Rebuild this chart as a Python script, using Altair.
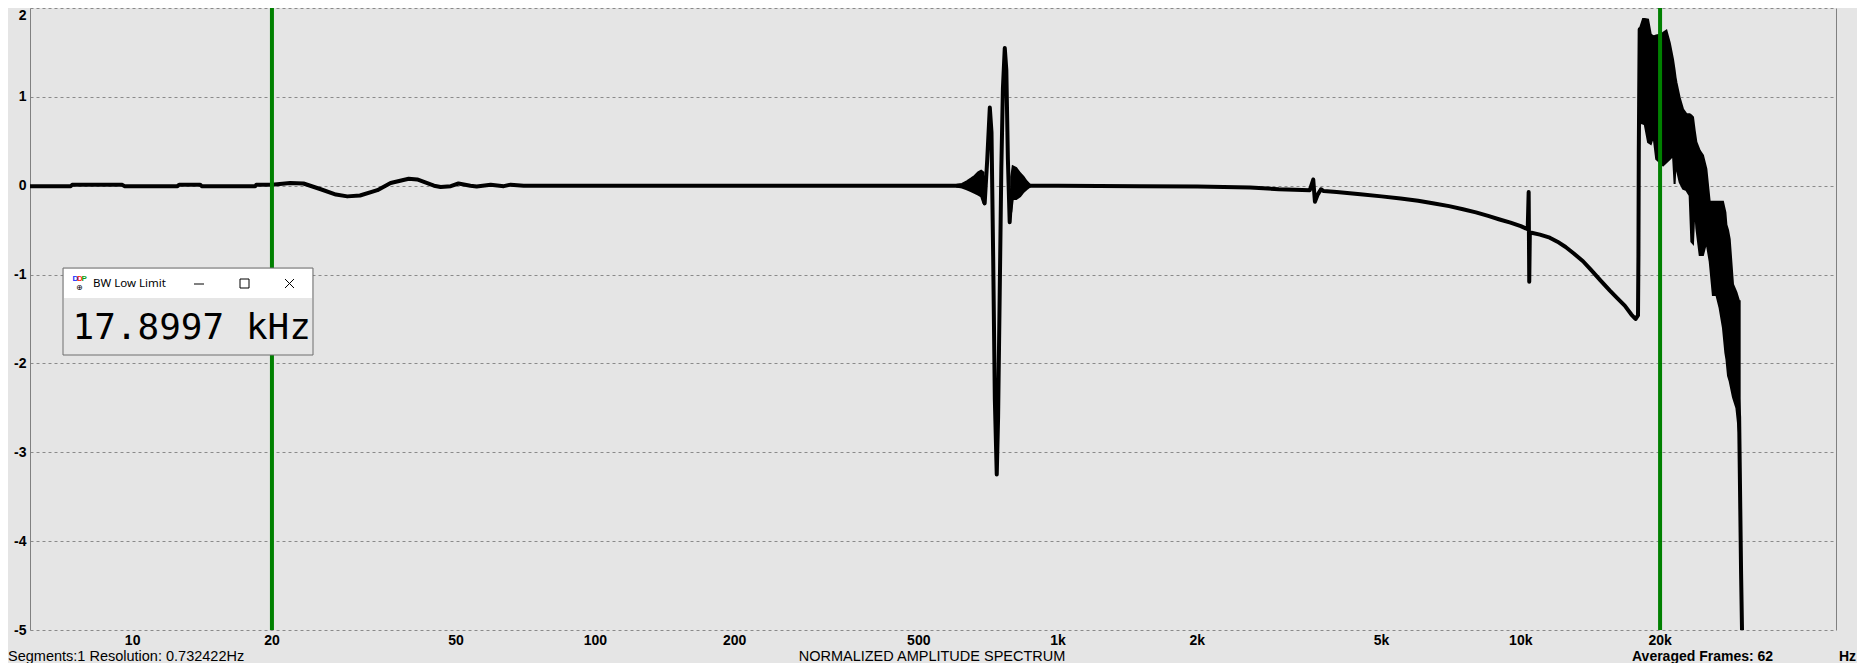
import altair as alt
import pandas as pd

# ---------------- data ----------------
# main trace: frequency (Hz) and normalized amplitude
freq = [6, 7.35, 7.4, 9.5, 9.6, 12.5, 12.6, 14.0, 14.1, 18.4, 18.5, 20, 21.9, 23.4,
        25.5, 27.5, 29.1, 31, 33.8, 36.1, 39.5, 41.2, 44.8, 46.3, 48.7, 50.6, 53.7,
        55.4, 59.4, 63.4, 65.6, 70, 100, 200, 400, 600, 680, 688, 694, 703, 712,
        718, 724, 730, 737, 742, 748, 754, 760, 767, 773, 779, 786, 790, 800, 870,
        1000, 1500, 2000, 2600, 3000, 3500, 3560, 3590, 3640, 3700, 3750, 4000,
        4500, 5000, 5500, 6000, 6500, 7000, 7500, 8000, 8500, 9000, 9500, 10000,
        10350, 10400, 10430, 10460, 10550, 11000, 11550, 12000, 12500, 13000,
        13630, 14200, 14830, 15580, 16200, 16775, 17340, 17700, 17920, 17960,
        17990, 18020, 18070, 19000, 21000, 23000, 25000, 27000, 29000, 29640,
        29930, 30200]
amp = [-0.005, -0.005, 0.01, 0.01, -0.005, -0.005, 0.01, 0.01, -0.005, -0.005, 0.01,
       0.01, 0.03, 0.025, -0.04, -0.1, -0.12, -0.11, -0.05, 0.03, 0.078, 0.07, 0.0,
       -0.015, -0.005, 0.025, 0.0, -0.01, 0.01, -0.005, 0.012, 0.0, 0.0, 0.0, 0.0,
       0.0, 0.0, 0.1, -0.2, 0.3, 0.88, 0.6, -0.8, -2.4, -3.25, -2.6, -1.2, 0.2, 1.1,
       1.55, 1.3, 0.3, -0.41, -0.2, 0.0, 0.0, 0.0, -0.005, -0.01, -0.02, -0.04,
       -0.05, 0.07, -0.18, -0.1, -0.04, -0.06, -0.07, -0.095, -0.12, -0.145,
       -0.17, -0.2, -0.23, -0.265, -0.30, -0.34, -0.38, -0.415, -0.455, -0.49,
       -0.07, -1.08, -0.55, -0.53, -0.55, -0.585, -0.63, -0.69, -0.76, -0.85,
       -0.95, -1.06, -1.18, -1.27, -1.35, -1.45, -1.5, -1.46, -0.76, 0.36, 0.92,
       1.76, 1.2, 0.9, 0.3, -0.3, -0.8, -1.8, -2.6, -4.36, -5.6]

# ripple before the 700 Hz burst (upper / lower envelope)
rip1_f = [605, 620, 635, 648, 660, 672, 682, 690]
rip1_hi = [0.01, 0.02, 0.05, 0.08, 0.11, 0.15, 0.17, 0.15]
rip1_lo = [-0.01, -0.02, -0.04, -0.06, -0.08, -0.1, -0.12, -0.2]

# ripple after the burst
rip2_f = [792, 798, 812, 828, 842, 855, 870]
rip2_hi = [0.1, 0.22, 0.2, 0.14, 0.1, 0.05, 0.01]
rip2_lo = [-0.3, -0.15, -0.15, -0.12, -0.07, -0.04, -0.01]

# noisy band above the BW limit
noise_f = [18070, 18370, 18530, 18840, 19100, 19350, 19620, 19970, 20300, 20640,
           20990, 21330, 21500, 21600, 21700, 22050, 22420, 22800, 23170, 23370,
           23560, 23760, 23960, 24360, 24760, 25180, 25600, 26010, 26470, 26900,
           27350, 27680, 27820, 28050, 28280, 28750, 29240, 29640, 29720]
noise_hi = [1.76, 1.875, 1.875, 1.87, 1.70, 1.68, 1.69, 1.70, 1.72, 1.745, 1.607,
            1.42, 1.30, 1.22, 1.16, 0.99, 0.86, 0.805, 0.805, 0.79, 0.77, 0.62,
            0.49, 0.395, 0.34, 0.19, -0.18, -0.18, -0.18, -0.18, -0.18, -0.3,
            -0.44, -0.5, -0.6, -1.11, -1.2, -1.3, -1.3]
noise_lo = [0.71, 0.70, 0.69, 0.49, 0.47, 0.56, 0.30, 0.265, 0.23, 0.265, 0.30,
            0.34, 0.02, 0.25, 0.2, 0.04, -0.034, -0.05, -0.11, -0.63, -0.65, -0.2,
            -0.48, -0.78, -0.78, -0.63, -0.85, -1.23, -1.23, -1.376, -1.6, -1.88,
            -1.95, -2.14, -2.2, -2.38, -2.5, -2.79, -2.8]

# green marker lines
marker_freq = [20, 20000]

# axis ticks / labels
grid_vals = [7, 8, 9, 10, 20, 30, 40, 50, 60, 70, 80, 90, 100, 200, 300, 400, 500,
             600, 700, 800, 900, 1000, 2000, 3000, 4000, 5000, 6000, 7000, 8000,
             9000, 10000, 20000, 30000, 40000]
label_vals = [10, 20, 50, 100, 200, 500, 1000, 2000, 5000, 10000, 20000]
label_text = ["10", "20", "50", "100", "200", "500", "1k", "2k", "5k", "10k", "20k"]
y_vals = [-5, -4, -3, -2, -1, 0, 1, 2]

# ---------------- tables ----------------
line_df = pd.DataFrame({"f": freq, "v": amp})
band_df = pd.concat([
    pd.DataFrame({"f": rip1_f, "hi": rip1_hi, "lo": rip1_lo, "g": "r1"}),
    pd.DataFrame({"f": rip2_f, "hi": rip2_hi, "lo": rip2_lo, "g": "r2"}),
    pd.DataFrame({"f": noise_f, "hi": noise_hi, "lo": noise_lo, "g": "n"}),
])
marker_df = pd.DataFrame({"f": marker_freq})
xlab_df = pd.DataFrame({"f": label_vals, "lab": label_text})

xscale = alt.Scale(type="log", domain=[6, 48000], nice=False)
yscale = alt.Scale(domain=[-5, 2], nice=False, zero=False)

GRID = "#8a8a8a"
AXC = "#808080"
FONT = "Liberation Sans"
PLOT_H = 622

x_axis = alt.Axis(
    values=grid_vals, labels=False,
    grid=True, gridColor=GRID, gridDash=[3, 3], gridWidth=1,
    ticks=False, tickSize=0, domain=True, domainColor=AXC, domainWidth=1,
    title=None,
)
y_axis = alt.Axis(
    values=y_vals, labelExpr="'' + datum.value",
    grid=True, gridColor=GRID, gridDash=[3, 3], gridWidth=1,
    ticks=False, tickSize=0, domain=True, domainColor=AXC, domainWidth=1,
    labelFont=FONT, labelFontSize=14, labelFontWeight="bold", labelColor="black",
    labelPadding=4, labelOverlap=False, labelFlush=False,
    labelOffset={"condition": {"test": "datum.value == 2", "value": 7}, "value": 0},
    title=None,
)
right_axis = alt.Axis(orient="right", labels=False, ticks=False, grid=False,
                      domain=True, domainColor=AXC, domainWidth=1, title=None)

band = alt.Chart(band_df).mark_area(
    color="black", stroke="black", strokeWidth=2, interpolate="linear", clip=True
).encode(
    x=alt.X("f:Q", scale=xscale, axis=None),
    y=alt.Y("hi:Q", scale=yscale, axis=right_axis),
    y2="lo:Q",
    detail="g:N",
)

line = alt.Chart(line_df).mark_line(
    color="black", strokeWidth=4, clip=True, strokeJoin="round"
).encode(
    x=alt.X("f:Q", scale=xscale, axis=x_axis),
    y=alt.Y("v:Q", scale=yscale, axis=y_axis),
)

green = alt.Chart(marker_df).mark_rule(color="#008000", strokeWidth=4).encode(
    x=alt.X("f:Q", scale=xscale, axis=None)
)

xlabels = alt.Chart(xlab_df).mark_text(
    font=FONT, fontSize=14, fontWeight="bold", color="black",
    align="center", baseline="alphabetic"
).encode(
    x=alt.X("f:Q", scale=xscale, axis=None),
    y=alt.value(PLOT_H + 14.5),
    text="lab:N",
)

one = pd.DataFrame({"k": [0]})


def txt(s, x, y, size=14, weight="normal", font=FONT, color="black",
        align="left", baseline="alphabetic"):
    return alt.Chart(pd.DataFrame({"t": [s]})).mark_text(
        font=font, fontSize=size, fontWeight=weight, color=color,
        align=align, baseline=baseline
    ).encode(text="t:N", x=alt.value(x), y=alt.value(y))


# popup window "BW Low Limit"
box = alt.Chart(one).mark_rect(fill="#e6e6e6", stroke="#6e6e6e", strokeWidth=1).encode(
    x=alt.value(33), x2=alt.value(283), y=alt.value(260), y2=alt.value(347))
bar = alt.Chart(one).mark_rect(fill="white").encode(
    x=alt.value(34), x2=alt.value(282), y=alt.value(261), y2=alt.value(290))
minimize = alt.Chart(one).mark_rule(color="black", strokeWidth=1).encode(
    x=alt.value(164), x2=alt.value(174), y=alt.value(276), y2=alt.value(276))
maximize = alt.Chart(one).mark_rect(fill="white", stroke="black", strokeWidth=1).encode(
    x=alt.value(210), x2=alt.value(219), y=alt.value(271), y2=alt.value(280))
close1 = alt.Chart(one).mark_rule(color="black", strokeWidth=1).encode(
    x=alt.value(255), x2=alt.value(264), y=alt.value(271), y2=alt.value(280))
close2 = alt.Chart(one).mark_rule(color="black", strokeWidth=1).encode(
    x=alt.value(255), x2=alt.value(264), y=alt.value(280), y2=alt.value(271))

BOTTOM_Y = PLOT_H + 30.5

layers = [
    band, line, green, xlabels, box, bar, minimize, maximize, close1, close2,
    txt("D", 42.5, 273, size=8, weight="bold", color="#2030ff"),
    txt("D", 47, 273, size=8, weight="bold", color="#ff2020"),
    txt("P", 51.5, 273, size=8, weight="bold", color="#10a010"),
    txt("⊕", 46, 282, size=8, font="DejaVu Sans"),
    txt("BW Low Limit", 63, 276, size=11.5, font="Noto Sans", baseline="middle"),
    txt("17.8997 kHz", 42.5, 331, size=36, font="DejaVu Sans Mono"),
    # bottom texts
    txt("Segments:1   Resolution: 0.732422Hz", -22, BOTTOM_Y, size=14.5),
    txt("NORMALIZED AMPLITUDE SPECTRUM", 902, BOTTOM_Y, size=14.5, align="center"),
    txt("Averaged Frames: 62", 1602, BOTTOM_Y, size=14, weight="bold"),
    txt("Hz", 1809, BOTTOM_Y, size=14, weight="bold"),
]

chart = alt.layer(*layers).resolve_axis(y="independent").properties(
    width=1806, height=PLOT_H,
    background="#e5e5e5",
    padding={"left": 22, "top": 0, "right": 21, "bottom": 33},
    autosize=alt.AutoSizeParams(type="none"),
).configure_view(stroke=None)

chart.save("out.html", embed_options={"renderer": "svg", "actions": False})
